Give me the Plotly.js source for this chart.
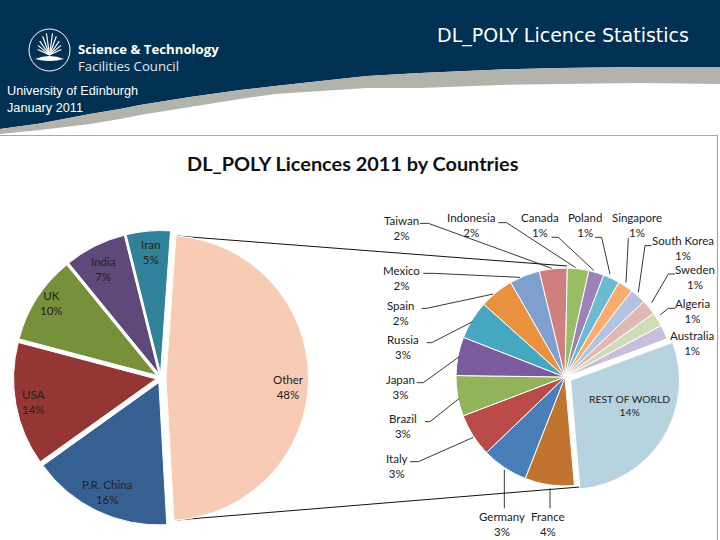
<!DOCTYPE html>
<html><head><meta charset="utf-8">
<script src="https://cdn.plot.ly/plotly-3.0.1.min.js"></script>
<style>html,body{margin:0;padding:0;background:#fff}#c{width:720px;height:540px}</style>
</head><body><div id="c"></div>
<script>
// ---- data ----
const mainLabels = ['Other','P.R. China','USA','UK','India','Iran'];
const mainValues = [48,16,14,10,7,5];
const mainColors = ['#F8CBB5','#376092','#943634','#769139','#5F497A','#2F8299'];

const restLabels = ['REST OF WORLD','France','Germany','Italy','Brazil','Japan','Russia','Spain','Mexico','Taiwan','Indonesia','Canada','Poland','Singapore','South Korea','Sweden','Algeria','Australia'];
const restValues = [14,3.5,3.28,3.05,2.87,2.73,2.72,2.43,2.15,1.97,1.52,1.08,1.17,1.08,1.12,1.08,1.0,1.01];
const restShown  = [14,4,3,3,3,3,3,2,2,2,2,1,1,1,1,1,1,1];
const restColors = ['#B7D3E0','#C0742F','#4A7EBB','#BB4B48','#93B35A','#7A5C9E','#46A7C2','#E8913F','#7F9FCE','#CF7F7D','#98BD66','#9C82B8','#6BBAD0','#F9AC6D','#B3C3E0','#E0B8B6','#CFDDB6','#C9BEDB'];

// ---- placement helpers (pixels -> paper) ----
const W=720,H=540;
const px=x=>x/W, py=y=>1-y/H;
function dom(cx,cy,half){return {x:[px(cx-half),px(cx+half)],y:[py(cy+half),py(cy-half)]};}
function pathOf(pts,close){return pts.map((p,i)=>(i?'L':'M')+px(p[0]).toFixed(5)+','+py(p[1]).toFixed(5)).join(' ')+(close?' Z':'');}
const shape=(path,fill,lineColor,lw)=>({type:'path',xref:'paper',yref:'paper',path,fillcolor:fill||'rgba(0,0,0,0)',line:{color:lineColor||'rgba(0,0,0,0)',width:lw||0},layer:'below'});

// header geometry
const swooshTop=[[0,129],[40,123.5],[90,114],[120,109],[140,105],[190,97],[240,90],[275,86],[367,76],[420,73],[500,69.5],[560,68],[640,67],[720,67]];
const swooshBot=[[720,84],[640,83],[560,84],[500,85],[420,88],[367,88],[275,94],[240,99],[190,107],[140,115],[120,119],[90,124],[40,130],[0,134]];

const shapes=[];
shapes.push(shape(pathOf([[0,0],[720,0],...swooshTop.slice().reverse()],true),'#003153'));
shapes.push(shape(pathOf([...swooshTop,...swooshBot],true),'#B3B3AE'));
// panel frame
shapes.push(shape(pathOf([[0,135.5],[717.5,135.5],[717.5,540]]),null,'#A9A9A9',1.2));
// logo
shapes.push({type:'circle',xref:'paper',yref:'paper',x0:px(29),x1:px(70),y0:py(71),y1:py(29),line:{color:'#fff',width:1},fillcolor:'rgba(0,0,0,0)',layer:'below'});
shapes.push(shape('M'+px(35)+','+py(59)+' Q'+px(49.5)+','+py(53)+' '+px(64)+','+py(59)+' Q'+px(49.5)+','+py(63)+' '+px(35)+','+py(59)+' Z','#fff'));
[[-65,13],[-50,15],[-35,17],[-20,20],[-8,22],[8,22],[20,20],[35,17],[50,15],[65,13]].forEach(r=>{
  const a=r[0]*Math.PI/180;
  shapes.push(shape(pathOf([[49.5,55],[49.5+Math.sin(a)*r[1],55-Math.cos(a)*r[1]]]),null,'#fff',1.2));
});
// connectors between the pies
[[[177,236],[567,266]],[[177,520],[580,487]]].forEach(l=>shapes.push(shape(pathOf(l),null,'#111',1)));
// leader lines
const z=(x,y)=>[x/3+370,y/3+200];
const leaders=[
 [[150,70],[175,70],[545,205]],
 [[385,68],[410,68],[617,203]],
 [[545,112],[565,112],[672,212]],
 [[675,112],[695,112],[720,222]],
 [[775,115],[768,248]],
 [[845,137],[825,137],[805,277]],
 [[915,222],[895,222],[845,308]],
 [[915,325],[895,325],[870,345]],
 [[160,220],[190,220],[450,232]],
 [[155,325],[170,325],[370,282]],
 [[170,428],[185,428],[308,365]],
 [[140,548],[160,548],[268,470]],
 [[165,665],[180,665],[268,595]],
 [[120,785],[145,785],[310,712]],
 [[403,810],[403,925]],
 [[540,865],[540,925]]
];
leaders.forEach(l=>{const s=shape(pathOf(l.map(p=>z(p[0],p[1]))),null,'#222',0.9);s.layer='above';shapes.push(s);});

// annotations
const ann=(x,y,text,size,color,opts)=>Object.assign({xref:'paper',yref:'paper',x:px(x),y:py(y),text,showarrow:false,xanchor:'center',yanchor:'middle',font:{family:'Lato, sans-serif',size:size,color:color||'#222'},align:'center'},opts||{});
const annotations=[];
const mainPos={'Other':[288,387],'P.R. China':[107,492],'USA':[33,402],'UK':[52,303],'India':[103,269],'Iran':[150,252]};
mainLabels.forEach((n,i)=>annotations.push(ann(mainPos[n][0],mainPos[n][1],n+'<br>'+mainValues[i]+'%',11.5,'#222')));
const restPos={'REST OF WORLD':[629,405],'France':[548,524],'Germany':[502,524],'Italy':[397,466],'Brazil':[403,426],'Japan':[400,387],'Russia':[403,347],'Spain':[400,313],'Mexico':[401,278],'Taiwan':[401,228],'Indonesia':[471,225],'Canada':[540,225],'Poland':[585,225],'Singapore':[637,225],'South Korea':[683,248],'Sweden':[695,277],'Algeria':[692,311],'Australia':[692,343]};
restLabels.forEach((n,i)=>annotations.push(ann(restPos[n][0],restPos[n][1],n+'<br>'+restShown[i]+'%',i===0?10.3:11.5,'#222')));
annotations.push(ann(353,163,'<b>DL_POLY Licences 2011 by Countries</b>',19.9,'#111'));
annotations.push(ann(562.5,36,'DL_POLY Licence Statistics',19,'#fff',{font:{family:'DejaVu Sans, sans-serif',size:19,color:'#fff'}}));
annotations.push(ann(76,57.5,'<b>Science &amp; Technology</b><br><span style="color:#E4E9EE">Facilities Council</span>',13.2,'#fff',{xanchor:'left',align:'left',font:{family:'Open Sans, sans-serif',size:13.2,color:'#fff'}}));
annotations.push(ann(5,99.5,'University of Edinburgh<br>January 2011',12.7,'#fff',{xanchor:'left',align:'left',font:{family:'Liberation Sans, Arial, sans-serif',size:12.7,color:'#fff'}}));

const mainPull=0.035, restR=109, mainR=142.5;
const traces=[
 {type:'pie',labels:mainLabels,values:mainValues,sort:false,direction:'clockwise',rotation:4,
  marker:{colors:mainColors,line:{color:'#fff',width:1}},pull:mainValues.map(()=>mainPull),
  textinfo:'none',hoverinfo:'label+percent',showlegend:false,domain:dom(161,378,mainR*(1+mainPull))},
 {type:'pie',labels:restLabels,values:restValues,sort:false,direction:'clockwise',rotation:69.5,
  marker:{colors:restColors,line:{color:'#fff',width:1}},pull:restValues.map((v,i)=>i===0?0.06:0),
  textinfo:'none',hoverinfo:'label+percent',showlegend:false,domain:dom(565,377,restR*1.06)}
];
Plotly.newPlot('c',traces,{width:W,height:H,margin:{l:0,r:0,t:0,b:0},paper_bgcolor:'#fff',showlegend:false,shapes,annotations},{displayModeBar:false,staticPlot:true});
</script></body></html>
